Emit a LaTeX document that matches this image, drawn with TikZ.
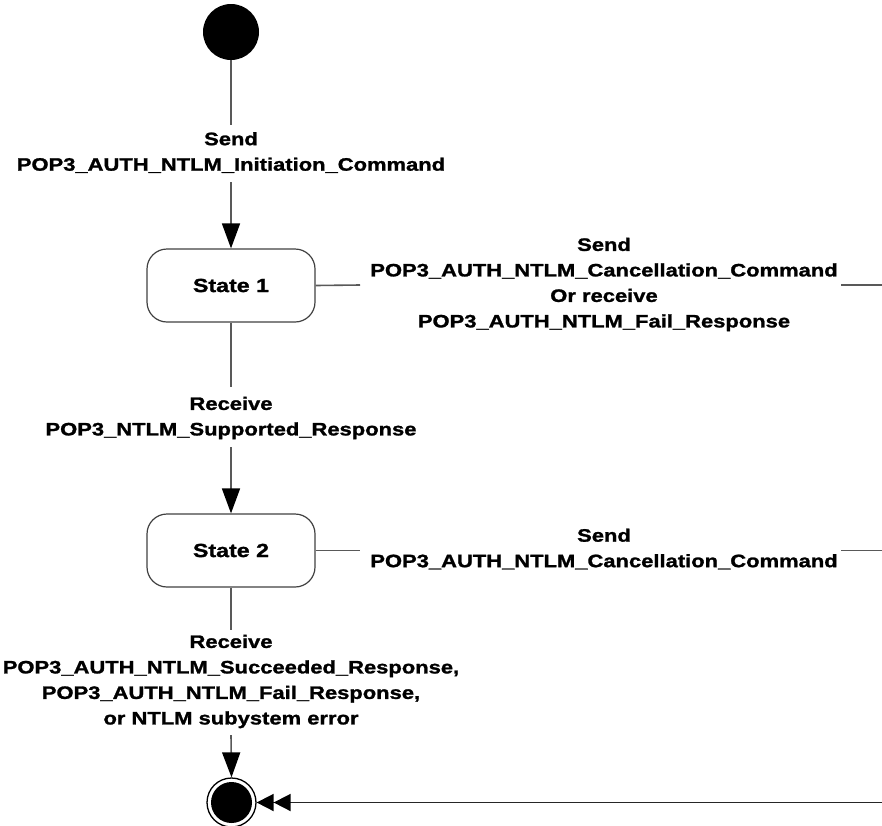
\documentclass[tikz,border=0pt]{standalone}
\usepackage{fontspec}
\setmainfont{Liberation Sans}[FakeStretch=1.22,FakeBold=1.4]
\usetikzlibrary{arrows.meta}
\begin{document}
\begin{tikzpicture}[x=1pt,y=-1pt,
  lbl/.style={font=\fontsize{18}{25.5}\selectfont\bfseries, align=center, inner sep=0pt},
  statebox/.style={draw=black!75, line width=1.2pt, rounded corners=20pt, minimum width=168pt, minimum height=73pt, font=\fontsize{19}{22}\selectfont\bfseries},
  conn/.style={draw=black!65, line width=1.6pt},
  tip/.style={-{Triangle[length=25pt,width=18pt,color=black,fill=black]}},
  dtip/.style={-{Triangle[length=17pt,width=17pt,color=black,fill=black]Triangle[length=17pt,width=17pt,color=black,fill=black]}}]
\useasboundingbox (0,0) rectangle (882,825);
\node[circle, fill=black, minimum size=56pt, inner sep=0pt] (init) at (231,32) {};
\node[statebox] (s1) at (231,285.5) {State 1};
\node[statebox] (s2) at (231,550.5) {State 2};
\node[circle, draw=black, line width=1.3pt, minimum size=49pt, inner sep=0pt] (fin) at (231.5,802.5) {};
\node[circle, fill=black, minimum size=41pt, inner sep=0pt] at (fin) {};
% labels
\node[lbl] (l1) at (231,152.5) {Send\\POP3\_AUTH\_NTLM\_Initiation\_Command};
\node[lbl] (l2) at (231,418) {Receive\\POP3\_NTLM\_Supported\_Response};
\node[lbl] (l3) at (231,681.5) {Receive\\POP3\_AUTH\_NTLM\_Succeeded\_Response,\\POP3\_AUTH\_NTLM\_Fail\_Response,\\or NTLM subystem  error};
\node[lbl] (l4) at (604,284.5) {Send\\POP3\_AUTH\_NTLM\_Cancellation\_Command\\Or receive\\POP3\_AUTH\_NTLM\_Fail\_Response};
\node[lbl] (l5) at (604,549) {Send\\POP3\_AUTH\_NTLM\_Cancellation\_Command};
\coordinate (r1) at (882,285);
\coordinate (r2) at (882,550.5);
\coordinate (r3) at (882,802.5);
% connectors
\draw[conn] (init) -- (231,125);
\draw[conn, tip] (231,182) -- (s1.north);
\draw[conn] (s1.south) -- (231,387);
\draw[conn, tip] (231,447) -- (s2.north);
\draw[conn] (s2.south) -- (231,630);
\draw[conn, tip] (231,735) -- (fin.north);
\draw[conn] (s1.east) -- (360,285);
\draw[conn] (841,285) -- (r1);
\draw[conn] (s2.east) -- (360,550.5);
\draw[conn] (841,550.5) -- (r2);
\draw[conn, draw=black!85, line width=1.8pt, dtip] (r3) -- (fin.east);
\end{tikzpicture}
\end{document}
